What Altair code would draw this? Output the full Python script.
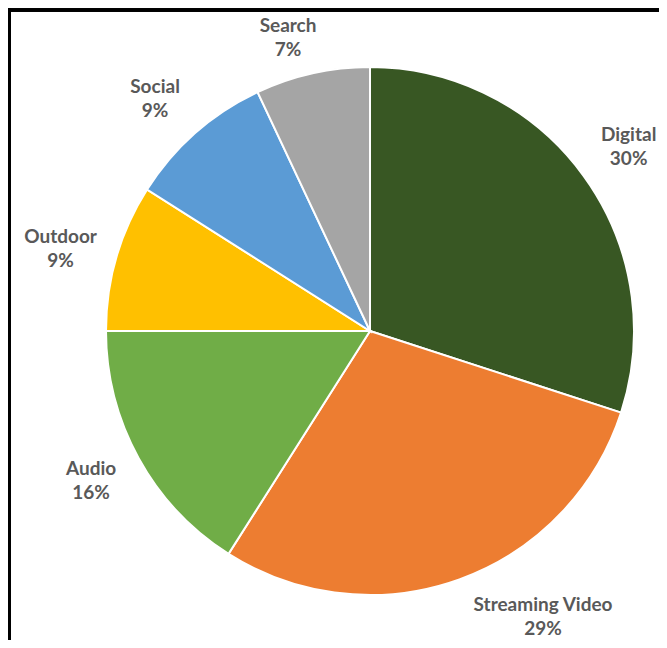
import altair as alt
import pandas as pd

categories = ["Digital", "Streaming Video", "Audio", "Outdoor", "Social", "Search"]
values = [30, 29, 16, 9, 9, 7]
colors = ["#385723", "#ED7D31", "#70AD47", "#FFC000", "#5B9BD5", "#A5A5A5"]

df = pd.DataFrame({"category": categories, "value": values, "idx": list(range(len(categories)))})

W, H = 651, 632
CX, CY = 362, 323
R = 264
LR = 316

pie = alt.Chart(df).mark_arc(outerRadius=R, stroke="white", strokeWidth=2).encode(
    theta=alt.Theta("value:Q", stack=True),
    order=alt.Order("idx:Q"),
    x=alt.value(CX),
    y=alt.value(CY),
    color=alt.Color("category:N", scale=alt.Scale(domain=categories, range=colors), legend=None, sort=None),
)

label_expr = "[datum.category, format(datum.value, 'd') + '%']"
text_props = dict(radius=LR, font="Lato", fontWeight="bold", fontSize=19, lineHeight=24,
                  color="#595959", align="center", baseline="middle")


def label_layer(cat, dx, dy):
    return alt.Chart(df).transform_window(
        cum="sum(value)", sort=[alt.SortField("idx")], frame=[None, 0]
    ).transform_calculate(
        mid="datum.cum - datum.value / 2", label=label_expr
    ).transform_filter(f"datum.category == '{cat}'").mark_text(dx=dx, dy=dy, **text_props).encode(
        theta=alt.Theta("mid:Q", scale=alt.Scale(domain=[0, 100])),
        x=alt.value(CX),
        y=alt.value(CY),
        text=alt.Text("label:N"),
    )


nudges = {
    "Digital": (3, -10),
    "Streaming Video": (66, -23),
    "Audio": (-2, -14),
    "Outdoor": (-6, -6),
    "Social": (-6, -7),
    "Search": (-13, 3),
}
all_labels = [label_layer(c, *nudges[c]) for c in categories]

top_border = alt.Chart(df).mark_rule(color="black", strokeWidth=3).encode(
    x=alt.value(0), x2=alt.value(W), y=alt.value(2)
)
left_border = alt.Chart(df).mark_rule(color="black", strokeWidth=3).encode(
    x=alt.value(1.5), y=alt.value(0), y2=alt.value(H)
)

chart = alt.layer(pie, *all_labels, top_border, left_border).properties(
    width=W, height=H, padding=0, autosize=alt.AutoSizeParams(type="none")
).configure_view(stroke=None).configure(background="white")

chart.save("out.html", embed_options={"renderer": "svg", "actions": False})
